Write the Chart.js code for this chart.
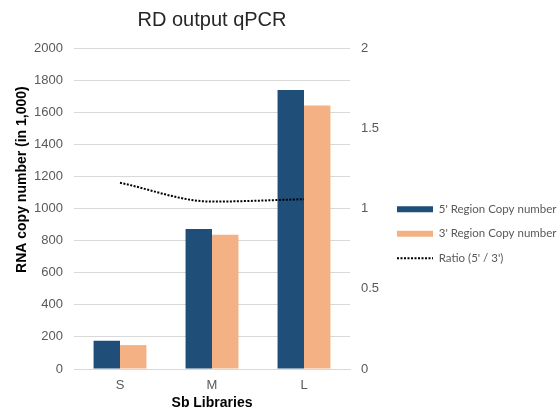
<!DOCTYPE html>
<html>
<head>
<meta charset="utf-8">
<script src="https://cdn.jsdelivr.net/npm/chart.js@4"></script>
<style>
  html, body { margin: 0; padding: 0; background: #ffffff; }
  #wrap { width: 559px; height: 417px; }
</style>
</head>
<body>
<div id="wrap"><canvas id="chart" width="559" height="417"></canvas></div>
<script>
// Sb library sizes on the category axis
const libraries = ['S', 'M', 'L'];

// qPCR copy numbers (in 1,000)
const copies5Prime = [176, 873, 1738];
const copies3Prime = [149, 836, 1642];

// 5' / 3' copy ratio (right axis)
const ratio5to3 = [1.16, 1.043, 1.058];

// Axis tick values
const leftTicks = [0, 200, 400, 600, 800, 1000, 1200, 1400, 1600, 1800, 2000];
const rightTicks = [0, 0.5, 1, 1.5, 2];

const BLUE = '#1f4e79';
const ORANGE = '#f4b183';
const TEXT = '#595959';
const GRID = '#d9d9d9';

const tickFont = { family: '"Liberation Sans", Arial, sans-serif', size: 13 };
const boldFont = { family: '"Liberation Sans", Arial, sans-serif', size: 14, weight: 'bold' };

// Left axis caption, drawn rotated and placed a little above the axis midpoint
const leftCaption = {
  id: 'leftCaption',
  afterDraw(chart, args, opts) {
    const { ctx, chartArea } = chart;
    ctx.save();
    ctx.translate(opts.x, chartArea.top + chartArea.height * opts.along);
    ctx.rotate(-Math.PI / 2);
    ctx.font = 'bold 14px "Liberation Sans", Arial, sans-serif';
    ctx.fillStyle = '#000000';
    ctx.textAlign = 'center';
    ctx.textBaseline = 'middle';
    ctx.fillText(opts.text, 0, 0);
    ctx.restore();
  }
};

new Chart(document.getElementById('chart'), {
  type: 'bar',
  plugins: [leftCaption],
  data: {
    labels: libraries,
    datasets: [
      {
        label: "5' Region Copy number",
        data: copies5Prime,
        backgroundColor: BLUE,
        yAxisID: 'y',
        order: 1
      },
      {
        label: "3' Region Copy number",
        data: copies3Prime,
        backgroundColor: ORANGE,
        yAxisID: 'y',
        order: 1
      },
      {
        type: 'line',
        label: "Ratio (5' / 3')",
        data: ratio5to3,
        borderColor: '#000000',
        borderWidth: 2,
        borderDash: [2, 1.5],
        pointRadius: 0,
        fill: false,
        cubicInterpolationMode: 'monotone',
        yAxisID: 'y2',
        order: 0
      }
    ]
  },
  options: {
    responsive: false,
    animation: false,
    layout: { padding: 0 },
    datasets: {
      bar: { categoryPercentage: 0.575, barPercentage: 1.0 }
    },
    plugins: {
      leftCaption: { text: 'RNA copy number (in 1,000)', x: 22, along: 0.41 },
      title: {
        display: true,
        text: 'RD output qPCR',
        fullSize: false,
        color: '#262626',
        font: { family: '"Liberation Sans", Arial, sans-serif', size: 20, weight: 'normal' },
        padding: { top: 8, bottom: 16 }
      },
      tooltip: { enabled: false },
      legend: {
        position: 'right',
        maxWidth: 175,
        title: { display: true, text: '', padding: { top: 18, bottom: 18 } },
        labels: {
          color: TEXT,
          font: { family: 'Lato, "Liberation Sans", sans-serif', size: 11.5 },
          boxWidth: 36,
          boxHeight: 6,
          padding: 13,
          usePointStyle: true,
          pointStyleWidth: 36,
          generateLabels(chart) {
            return chart.data.datasets.map((ds, i) => {
              const isLine = ds.type === 'line';
              return {
                text: ds.label,
                datasetIndex: i,
                fillStyle: isLine ? 'rgba(0,0,0,0)' : ds.backgroundColor,
                strokeStyle: isLine ? ds.borderColor : ds.backgroundColor,
                lineWidth: isLine ? 2 : 0,
                lineDash: isLine ? ds.borderDash : [],
                pointStyle: isLine ? 'line' : 'rect',
                fontColor: TEXT,
                hidden: false
              };
            });
          }
        }
      }
    },
    scales: {
      x: {
        afterFit(scale) { scale.height = 48; },
        grid: { display: false, drawTicks: false },
        border: { display: true, color: GRID, width: 1 },
        ticks: { color: TEXT, font: tickFont, padding: 9 },
        title: {
          display: true,
          text: 'Sb Libraries',
          color: '#000000',
          font: boldFont,
          padding: { top: 0, bottom: 5 }
        }
      },
      y: {
        position: 'left',
        min: 0,
        max: 2000,
        afterFit(scale) { scale.width = 74; },
        afterBuildTicks(scale) {
          scale.ticks = leftTicks.map(v => ({ value: v }));
        },
        grid: { color: GRID, lineWidth: 1, drawTicks: false },
        border: { display: false },
        ticks: {
          color: TEXT,
          font: tickFont,
          padding: 11,
          callback: v => String(v)
        },
        title: { display: false }
      },
      y2: {
        position: 'right',
        min: 0,
        max: 2,
        afterFit(scale) { scale.width = 34; },
        afterBuildTicks(scale) {
          scale.ticks = rightTicks.map(v => ({ value: v }));
        },
        grid: { display: false, drawTicks: false },
        border: { display: false },
        ticks: {
          color: TEXT,
          font: tickFont,
          padding: 11,
          callback: v => String(v)
        }
      }
    }
  }
});
</script>
</body>
</html>
